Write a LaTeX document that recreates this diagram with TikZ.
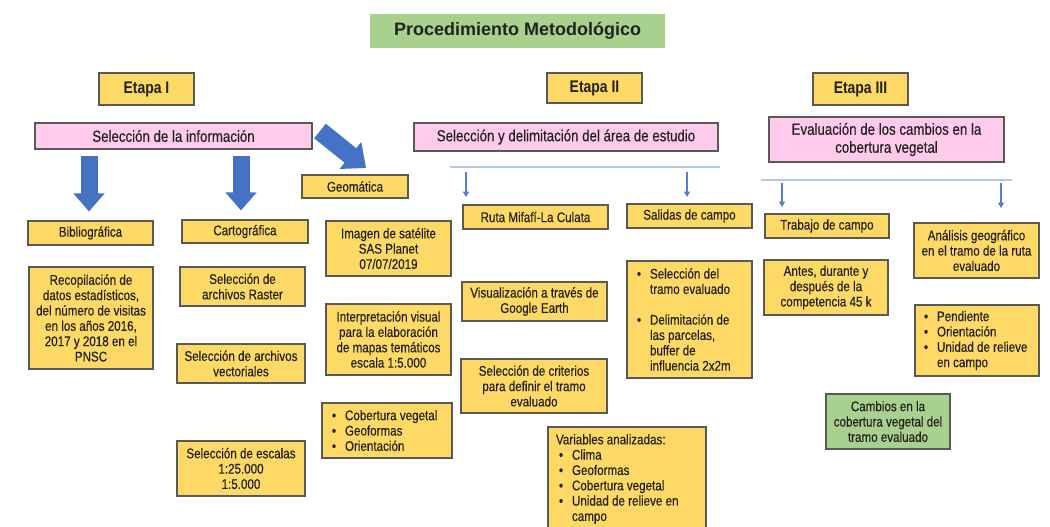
\documentclass[tikz,border=0pt]{standalone}
\usepackage{fontspec}
\setmainfont[FakeStretch=0.83,UprightFeatures={FakeBold=0.35}]{Liberation Sans}
\newfontfamily\widefont{Liberation Sans}
\usetikzlibrary{backgrounds,arrows.meta}
\definecolor{yel}{HTML}{FFD966}
\definecolor{pnk}{HTML}{FFCAEC}
\definecolor{grn}{HTML}{A9D18E}
\definecolor{blu}{HTML}{4472C4}
\definecolor{lblu}{HTML}{B4C7E7}
\definecolor{bord}{HTML}{5A5A55}
\definecolor{txt}{HTML}{222222}
\newcommand{\bul}{\makebox[9.75pt][l]{\textbullet}}
\newcommand{\hang}{\hspace*{9.75pt}}
% style, name, x1, y1, x2, y2, text  (pixel coordinates)
\newcommand{\mybx}[7]{\node[#1, minimum width={(#5-#3)*0.75pt}, minimum height={(#6-#4)*0.75pt}] (#2) at ({(#3+#5)/2},{(#4+#6)/2}) {#7};}
\begin{document}
\begin{tikzpicture}[x=0.75pt,y=-0.75pt,
  box/.style={draw=bord, line width=0.8pt, inner sep=0pt, text=txt, align=center},
  ybox/.style={box, fill=yel, font=\fontsize{10.5}{11.5}\selectfont},
  pbox/.style={box, fill=pnk, font=\fontsize{12}{13.5}\selectfont},
  gbox/.style={box, fill=grn, font=\fontsize{10.5}{11.5}\selectfont},
  ebox/.style={box, fill=yel, font=\fontsize{12.6}{14}\selectfont\bfseries},
  tbox/.style={fill=grn, inner sep=0pt, text=txt, font=\widefont\fontsize{13.5}{15}\selectfont\bfseries},
  lbox/.style={draw=bord, line width=0.8pt, inner sep=0pt, text=txt, fill=yel, font=\fontsize{10.5}{11.5}\selectfont, align=flush left},
  bbar/.style={draw=blu, line width=12pt},
  bigarrow/.style={draw=blu, line width=12.75pt, -{Triangle[length=13.5pt,width=22.5pt]}},
  ybarout/.style={draw=blu!80, line width=11pt, line join=miter},
  ybarin/.style={draw=yel, line width=9pt, line join=miter},
  thinline/.style={draw=lblu, line width=1.4pt},
  smallarrow/.style={draw=blu!90, line width=0.8pt, -{Triangle[length=4pt,width=4.5pt]}}
]
\clip (0,0) rectangle (1050,526);
\fill[white] (0,0) rectangle (1050,526);

% title
\mybx{tbox}{title}{370}{14}{665}{48}{Procedimiento Metodológico}

% etapas
\mybx{ebox}{e1}{99}{73}{194}{105}{Etapa I}
\mybx{ebox}{e2}{547}{73}{642}{103}{Etapa II}
\mybx{ebox}{e3}{813}{73}{908}{105}{Etapa III}

% pink boxes
\mybx{pbox}{p1}{35}{123}{312}{149}{Selección de la información}
\mybx{pbox}{p2}{414}{123}{718}{151}{Selección y delimitación del área de estudio}
\mybx{pbox}{p3}{769}{117}{1004}{162}{Evaluación de los cambios en la\\cobertura vegetal}

% column 1
\mybx{ybox}{bib}{28}{221}{153}{245}{Bibliográfica}
\mybx{ybox}{rec}{29}{267}{153}{369}{Recopilación de\\datos estadísticos,\\del número de visitas\\en los años 2016,\\2017 y 2018 en el\\PNSC}

% column 2
\mybx{ybox}{cart}{182}{220}{308}{243}{Cartográfica}
\mybx{ybox}{raster}{180}{267}{305}{306}{Selección de\\archivos Raster}
\mybx{ybox}{vect}{177}{344}{305}{383}{Selección de archivos\\vectoriales}
\mybx{ybox}{esc}{177}{441}{305}{496}{Selección de escalas\\1:25.000\\1:5.000}

% column 3
\mybx{ybox}{geo}{302}{175}{408}{198}{Geomática}
\mybx{ybox}{imag}{326}{221}{451}{276}{Imagen de satélite\\SAS Planet\\07/07/2019}
\mybx{ybox}{interp}{326}{304}{451}{375}{Interpretación visual\\para la elaboración\\de mapas temáticos\\escala 1:5.000}
\mybx{lbox, text width=82.5pt}{gbul}{322}{403}{452}{458}{\bul\mbox{Cobertura vegetal}\\\bul Geoformas\\\bul Orientación}

% stage II
\mybx{ybox}{ruta}{463}{205}{608}{229}{Ruta Mifafí-La Culata}
\mybx{ybox}{vis}{462}{282}{607}{321}{Visualización a través de\\Google Earth}
\mybx{ybox}{crit}{461}{359}{607}{413}{Selección de criterios\\para definir el tramo\\evaluado}
\mybx{ybox}{sal}{627}{204}{752}{228}{Salidas de campo}
\mybx{lbox, text width=78.75pt}{sbul}{627}{261}{752}{378}{\bul\mbox{Selección del}\\\hang\mbox{tramo evaluado}\\[11.5pt]\bul\mbox{Delimitación de}\\\hang\mbox{las parcelas,}\\\hang\mbox{buffer de}\\\hang\mbox{influencia 2x2m}}
\mybx{lbox, text width=106.5pt}{var}{548}{427}{706}{531}{Variables analizadas:\\\hspace*{2.25pt}\bul Clima\\\hspace*{2.25pt}\bul Geoformas\\\hspace*{2.25pt}\bul\mbox{Cobertura vegetal}\\\hspace*{2.25pt}\bul\mbox{Unidad de relieve en}\\\hspace*{2.25pt}\hang campo}

% stage III
\mybx{ybox}{trab}{765}{214}{889}{238}{Trabajo de campo}
\mybx{ybox}{antes}{764}{260}{888}{315}{Antes, durante y\\después de la\\competencia 45 k}
\mybx{gbox}{camb}{826}{394}{950}{449}{Cambios en la\\cobertura vegetal del\\tramo evaluado}
\mybx{ybox}{anal}{914}{223}{1039}{278}{Análisis geográfico\\en el tramo de la ruta\\evaluado}
\mybx{lbox, text width=79.5pt}{abul}{915}{305}{1039}{376}{\bul Pendiente\\\bul Orientación\\\bul\mbox{Unidad de relieve}\\\hang\mbox{en campo}}

% named coordinates for connector positions
\coordinate (x1) at (89,0);
\coordinate (x2) at (241,0);
\coordinate (x3) at (353,0);
\coordinate (x4) at (571,0);
\coordinate (x5) at (685,0);
\coordinate (x6) at (863,0);
\coordinate (x7) at (973,0);
\coordinate (el) at (973,411);
\coordinate (dg1) at (320,131);
\coordinate (dg2) at (366,168);
\coordinate (l2a) at (450,167);
\coordinate (l2b) at (720,167);
\coordinate (l3a) at (761,180);
\coordinate (l3b) at (1012,180);
\coordinate (s1a) at (466,172);
\coordinate (s1b) at (466,197);
\coordinate (s2a) at (687,172);
\coordinate (s2b) at (687,197);
\coordinate (s3a) at (782,183);
\coordinate (s3b) at (782,207);
\coordinate (s4a) at (1001,183);
\coordinate (s4b) at (1001,208);

\begin{pgfonlayer}{background}
  % green bar between etapas
  \draw[draw=grn, line width=12pt] (e1.east) -- (e3.west);
  % blue bars
  \draw[bbar] (bib.south -| x1) -- (rec.north -| x1);
  \draw[bbar] (cart.south -| x2) -- (esc.north -| x2);
  \draw[bbar] (geo.south -| x3) -- (gbul.north -| x3);
  \draw[bbar] (ruta.south -| x4) -- (var.north -| x4);
  \draw[bbar] (sal.south -| x5) -- (var.north -| x5);
  % yellow bars with blue outline
  \draw[ybarout] (trab.south -| x6) -- (camb.north -| x6);
  \draw[ybarin] (trab.south -| x6) -- (camb.north -| x6);
  \draw[ybarout] (anal.south -| x7) -- (abul.north -| x7);
  \draw[ybarin] (anal.south -| x7) -- (abul.north -| x7);
  \draw[ybarout] (abul.south -| x7) |- (camb.east |- el);
  \draw[ybarin] (abul.south -| x7) |- (camb.east |- el);
\end{pgfonlayer}

% big blue arrows
\draw[bigarrow, shorten <=4.5pt, shorten >=6.75pt] (p1.south -| x1) -- (bib.north -| x1);
\draw[bigarrow, shorten <=4.5pt, shorten >=6.75pt] (p1.south -| x2) -- (cart.north -| x2);
\draw[bigarrow, line width=14pt, -{Triangle[length=15pt,width=25pt]}] (dg1) -- (dg2);

% thin lines and small arrows
\draw[thinline] (l2a) -- (l2b);
\draw[thinline] (l3a) -- (l3b);
\draw[smallarrow] (s1a) -- (s1b);
\draw[smallarrow] (s2a) -- (s2b);
\draw[smallarrow] (s3a) -- (s3b);
\draw[smallarrow] (s4a) -- (s4b);
\end{tikzpicture}
\end{document}
